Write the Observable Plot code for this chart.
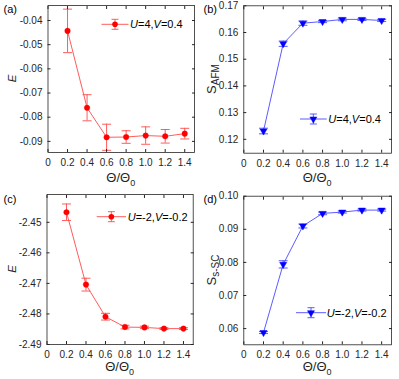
<!DOCTYPE html>
<html><head><meta charset="utf-8">
<script src="https://cdn.jsdelivr.net/npm/d3@7"></script>
<script src="https://cdn.jsdelivr.net/npm/@observablehq/plot@0.6"></script>
<style>
body{margin:0;background:#fff}
#fig{position:relative;width:399px;height:379px;overflow:hidden}
#fig svg{position:absolute}
</style>
</head><body><div id="fig"></div>
<script>
// ---- data ----
const theta = [0.2, 0.4, 0.6, 0.8, 1.0, 1.2, 1.4];
const energyA = [-0.0443, -0.0761, -0.0883, -0.0882, -0.0876, -0.0879, -0.0868];
const energyAErr = [0.0090, 0.0054, 0.0054, 0.0026, 0.0036, 0.0028, 0.0022];
const safmB = [0.1231, 0.1558, 0.1635, 0.1641, 0.1649, 0.1649, 0.1645];
const safmBErr = [0.00105, 0.0010, 0.0008, 0.0004, 0.0005, 0.0004, 0.0004];
const energyC = [-2.4467, -2.4704, -2.4809, -2.4843, -2.4844, -2.4848, -2.4848];
const energyCErr = [0.0027, 0.0021, 0.0011, 0.0006, 0.0004, 0.0003, 0.0003];
const sscD = [0.0588, 0.0794, 0.0910, 0.0948, 0.0952, 0.0958, 0.0958];
const sscDErr = [0.0003, 0.0011, 0.0006, 0.0004, 0.0003, 0.0003, 0.0003];

const xTicks = [0, 0.2, 0.4, 0.6, 0.8, 1.0, 1.2, 1.4];
const xTickLabels = ["0", "0.2", "0.4", "0.6", "0.8", "1.0", "1.2", "1.4"];
const yTicksA = [-0.09, -0.08, -0.07, -0.06, -0.05, -0.04];
const yTickLabelsA = ["-0.09", "-0.08", "-0.07", "-0.06", "-0.05", "-0.04"];
const yTicksB = [0.12, 0.13, 0.14, 0.15, 0.16, 0.17];
const yTickLabelsB = ["0.12", "0.13", "0.14", "0.15", "0.16", "0.17"];
const yTicksC = [-2.49, -2.48, -2.47, -2.46, -2.45];
const yTickLabelsC = ["-2.49", "-2.48", "-2.47", "-2.46", "-2.45"];
const yTicksD = [0.06, 0.07, 0.08, 0.09, 0.10];
const yTickLabelsD = ["0.06", "0.07", "0.08", "0.09", "0.10"];

const legendLabels = ["U=4,V=0.4", "U=4,V=0.4", "U=-2,V=-0.2", "U=-2,V=-0.2"];
const panelLabels = ["(a)", "(b)", "(c)", "(d)"];
const xLabel = ["Θ/Θ", "0"];
const yLabels = [["E", ""], ["S", "AFM"], ["E", ""], ["S", "s-SC"]];

// ---- styling / layout ----
const FONT = "'Liberation Sans', Arial, sans-serif";
const AX = "#262626";
const RED = "#ff0000", RED_L = "#ff4a4a";
const BLUE = "#0000ff", BLUE_L = "#4a4aff";

const capSymbol = {
  draw(ctx, size) {
    const r = Math.sqrt(size / Math.PI);
    ctx.moveTo(-r, 0); ctx.lineTo(r, 0);
  }
};

const panels = [
  {left: 0, top: 0, width: 200, height: 190, m: [5, 6, 38, 47.5], yDomain: [-0.0946, -0.0338],
   yTicks: yTicksA, yTickLabels: yTickLabelsA, vals: energyA, errs: energyAErr, c: RED, cl: RED_L, tri: false,
   leg: {x0: 101.5, x1: 128.5, y: 24.3, tx: 130}},
  {left: 200, top: 0, width: 199, height: 190, m: [5.3, 8, 37.3, 43.3], yDomain: [0.1148, 0.17],
   yTicks: yTicksB, yTickLabels: yTickLabelsB, vals: safmB, errs: safmBErr, c: BLUE, cl: BLUE_L, tri: true,
   leg: {x0: 100, x1: 126.7, y: 119, tx: 128.3}},
  {left: 0, top: 190, width: 200, height: 189, m: [4, 7.3, 35, 46.5], yDomain: [-2.49, -2.4409],
   yTicks: yTicksC, yTickLabels: yTickLabelsC, vals: energyC, errs: energyCErr, c: RED, cl: RED_L, tri: false,
   leg: {x0: 96.7, x1: 126, y: 26.7, tx: 127.7}},
  {left: 200, top: 190, width: 199, height: 189, m: [5.7, 8, 34.7, 43.3], yDomain: [0.0551, 0.10],
   yTicks: yTicksD, yTickLabels: yTickLabelsD, vals: sscD, errs: sscDErr, c: BLUE, cl: BLUE_L, tri: true,
   leg: {x0: 96, x1: 126, y: 122.7, tx: 126.7}}
];

const fig = document.getElementById("fig");

function italicize(sel, str) {
  const parts = str.split(/([UV])/).filter(s => s !== "");
  for (const p of parts) {
    const t = sel.append("tspan").text(p);
    if (p === "U" || p === "V") t.attr("font-style", "italic");
  }
}

panels.forEach((p, k) => {
  const data = theta.map((x, i) => ({x, y: p.vals[i], lo: p.vals[i] - p.errs[i], hi: p.vals[i] + p.errs[i]}));
  const [mt, mr, mb, ml] = p.m;
  const fmtX = d => xTickLabels[xTicks.findIndex(t => Math.abs(t - d) < 1e-9)];
  const fmtY = d => p.yTickLabels[p.yTicks.findIndex(t => Math.abs(t - d) < 1e-9)];
  const marker = p.tri
    ? Plot.dot(data, {x: "x", y: "y", symbol: "triangle", r: 2.6, rotate: 180, fill: p.c, stroke: p.c, strokeWidth: 0.5})
    : Plot.dot(data, {x: "x", y: "y", r: 2.8, fill: p.c, stroke: p.c, strokeWidth: 0.3});
  const svg = Plot.plot({
    width: p.width, height: p.height,
    marginTop: mt, marginRight: mr, marginBottom: mb, marginLeft: ml,
    style: {fontFamily: FONT, fontSize: "10px", color: AX, background: "transparent", overflow: "visible"},
    x: {domain: [0, 1.5]},
    y: {domain: p.yDomain},
    marks: [
      Plot.line(data, {x: "x", y: "y", stroke: p.cl, strokeWidth: 0.9}),
      Plot.ruleX(data, {x: "x", y1: "lo", y2: "hi", stroke: p.cl, strokeWidth: 0.9}),
      Plot.dot(data, {x: "x", y: "lo", symbol: capSymbol, r: 4.5, fill: "none", stroke: p.cl, strokeWidth: 0.9}),
      Plot.dot(data, {x: "x", y: "hi", symbol: capSymbol, r: 4.5, fill: "none", stroke: p.cl, strokeWidth: 0.9}),
      marker,
      Plot.axisX({ticks: xTicks, tickFormat: fmtX, tickSize: -3, tickPadding: 9.5, label: null, stroke: AX, fill: AX}),
      Plot.axisX({anchor: "top", ticks: xTicks, tickFormat: () => null, tickSize: -3, label: null, stroke: AX}),
      Plot.axisY({ticks: p.yTicks, tickFormat: fmtY, tickSize: -3, tickPadding: 8.5, label: null, stroke: AX, fill: AX}),
      Plot.axisY({anchor: "right", ticks: p.yTicks, tickFormat: () => null, tickSize: -3, label: null, stroke: AX}),
      Plot.frame({stroke: AX, strokeWidth: 0.8})
    ]
  });
  svg.style.left = p.left + "px";
  svg.style.top = p.top + "px";
  fig.appendChild(svg);

  const s = d3.select(svg);
  const fw = p.width - ml - mr, fh = p.height - mt - mb;
  // panel label
  s.append("text").attr("x", 3.5).attr("y", k < 2 ? 13 : 12.5).attr("text-anchor", "start")
    .attr("font-size", 11).attr("fill", "#000").text(panelLabels[k]);
  // x label
  const xl = s.append("text").attr("x", ml + fw / 2).attr("y", p.height - (k < 2 ? 8 : 8))
    .attr("text-anchor", "middle").attr("font-size", 13).attr("fill", AX);
  xl.append("tspan").text(xLabel[0]);
  xl.append("tspan").attr("font-size", 9).attr("dy", 4).text(xLabel[1]);
  // y label
  const [yl0, yl1] = yLabels[k];
  const isE = yl1 === "";
  const yl = s.append("text")
    .attr("transform", `translate(15.5,${mt + fh / 2}) rotate(-90)`)
    .attr("text-anchor", "middle").attr("font-size", isE ? 11.5 : 13).attr("fill", AX);
  const t0 = yl.append("tspan").text(yl0);
  if (isE) t0.attr("font-style", "italic");
  if (!isE) yl.append("tspan").attr("font-size", 10).attr("dy", 3.5).text(yl1);

  // legend (line sample with error bar and marker)
  const L = p.leg, g = s.append("g");
  const cx = (L.x0 + L.x1) / 2;
  g.append("line").attr("x1", L.x0).attr("x2", L.x1).attr("y1", L.y).attr("y2", L.y).attr("stroke", p.cl).attr("stroke-width", 0.9);
  g.append("line").attr("x1", cx).attr("x2", cx).attr("y1", L.y - 5).attr("y2", L.y + 5).attr("stroke", p.cl).attr("stroke-width", 0.9);
  g.append("line").attr("x1", cx - 3.5).attr("x2", cx + 3.5).attr("y1", L.y - 5).attr("y2", L.y - 5).attr("stroke", p.cl).attr("stroke-width", 0.9);
  g.append("line").attr("x1", cx - 3.5).attr("x2", cx + 3.5).attr("y1", L.y + 5).attr("y2", L.y + 5).attr("stroke", p.cl).attr("stroke-width", 0.9);
  if (p.tri) {
    g.append("path").attr("d", d3.symbol(d3.symbolTriangle, 2.6 * 2.6 * Math.PI)())
      .attr("transform", `translate(${cx},${L.y}) rotate(180)`).attr("fill", p.c).attr("stroke", p.c).attr("stroke-width", 0.5);
  } else {
    g.append("circle").attr("cx", cx).attr("cy", L.y).attr("r", 2.8).attr("fill", p.c);
  }
  const lt = g.append("text").attr("x", L.tx).attr("y", L.y + 4).attr("text-anchor", "start")
    .attr("font-size", 11).attr("fill", "#000");
  italicize(lt, legendLabels[k]);
});
</script>
</body></html>
